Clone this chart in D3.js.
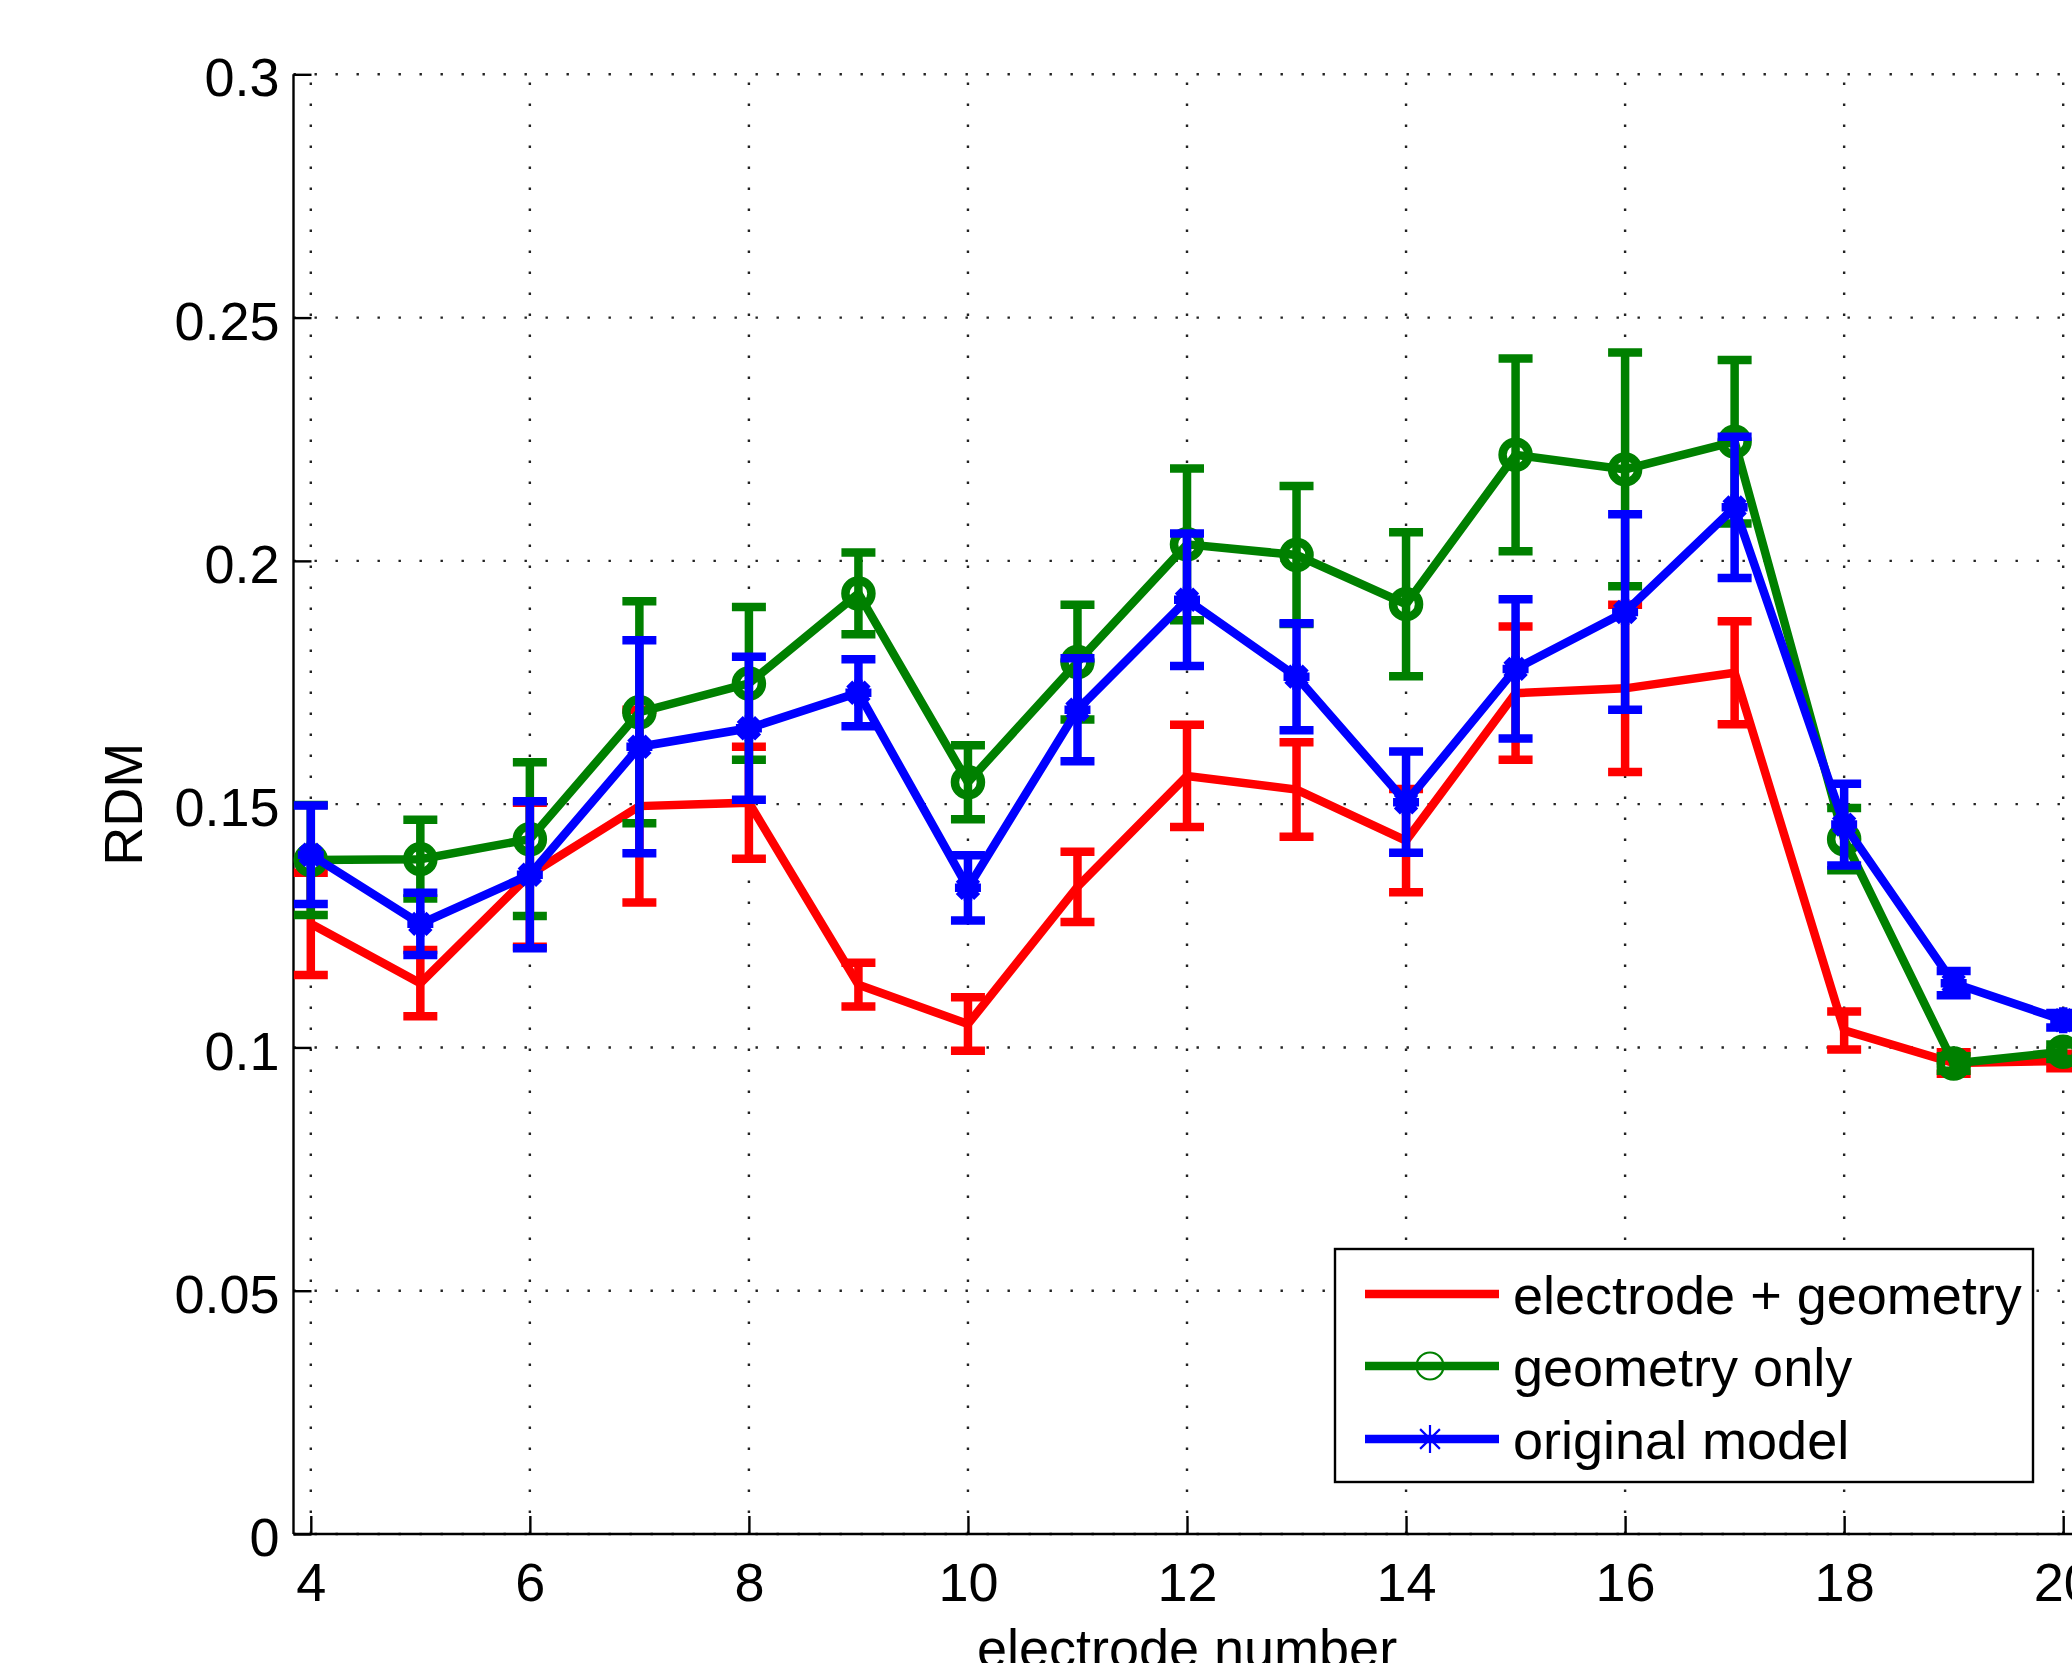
<!DOCTYPE html>
<html>
<head>
<meta charset="utf-8">
<script src="https://cdn.jsdelivr.net/npm/d3@7/dist/d3.min.js"></script>
<style>
html,body{margin:0;padding:0;background:#fff;overflow:hidden;}
text{font-family:"Liberation Sans",Arial,Helvetica,sans-serif;}
</style>
</head>
<body>
<svg id="chart" width="2072" height="1663"></svg>
<script>
// ---- data ----
const electrodes = [4,5,6,7,8,9,10,11,12,13,14,15,16,17,18,19,20];

const redMean  = [0.1254,0.1132,0.1355,0.1496,0.1503,0.1129,0.1048,0.1330,0.1558,0.1530,0.1425,0.1728,0.1738,0.1770,0.1035,0.0968,0.0972];
const redErr   = [0.0105,0.0068,0.0148,0.0198,0.0115,0.0045,0.0055,0.0072,0.0105,0.0097,0.0106,0.0137,0.0172,0.0106,0.0039,0.0022,0.0015];

const greenMean = [0.1385,0.1387,0.1428,0.1689,0.1748,0.1933,0.1545,0.1792,0.2034,0.2012,0.1911,0.2218,0.2188,0.2245,0.1428,0.0967,0.0991];
const greenErr  = [0.0113,0.0081,0.0158,0.0228,0.0157,0.0084,0.0076,0.0118,0.0156,0.0142,0.0148,0.0198,0.0240,0.0168,0.0064,0.0015,0.0015];

const blueMean = [0.1396,0.1254,0.1355,0.1618,0.1656,0.1729,0.1328,0.1694,0.1920,0.1762,0.1504,0.1778,0.1895,0.2110,0.1458,0.1132,0.1056];
const blueErr  = [0.0101,0.0064,0.0151,0.0219,0.0147,0.0069,0.0067,0.0106,0.0136,0.0110,0.0104,0.0143,0.0201,0.0145,0.0084,0.0025,0.0015];

const seriesNames = ["electrode + geometry","geometry only","original model"];
const seriesColors = ["#ff0000","#008000","#0000ff"];
const seriesMarkers = ["none","circle","asterisk"];

const xTicks = [4,6,8,10,12,14,16,18,20];
const yTicks = [0,0.05,0.1,0.15,0.2,0.25,0.3];
const yTickLabels = ["0","0.05","0.1","0.15","0.2","0.25","0.3"];
const xLabel = "electrode number";
const yLabel = "RDM";

// ---- layout ----
const svg = d3.select("#chart");
const pLeft = 293.5, pRight = 2080.5, pTop = 74.3, pBottom = 1534;
const x = d3.scaleLinear().domain([3.842, 20.158]).range([pLeft, pRight]);
const y = d3.scaleLinear().domain([0, 0.3]).range([pBottom, pTop]);

// grid
const grid = svg.append("g");
grid.selectAll("line.gx").data(xTicks).enter().append("line")
  .attr("x1", d => x(d)).attr("x2", d => x(d)).attr("y1", pBottom).attr("y2", pTop)
  .attr("stroke", "#222").attr("stroke-width", 2.4).attr("stroke-dasharray", "2.4 18.6");
grid.selectAll("line.gy").data(yTicks).enter().append("line")
  .attr("x1", pLeft).attr("x2", pRight).attr("y1", d => y(d)).attr("y2", d => y(d))
  .attr("stroke", "#222").attr("stroke-width", 2.4).attr("stroke-dasharray", "2.4 18.6");

// axes
const xAxis = d3.axisBottom(x).tickValues(xTicks).tickSize(-18).tickPadding(30).tickFormat(d3.format("d"));
const yAxis = d3.axisLeft(y).tickValues(yTicks).tickSize(-18).tickPadding(14).tickFormat((d,i) => yTickLabels[i]);

const gx = svg.append("g").attr("transform", `translate(0,${pBottom})`).call(xAxis);
const gy = svg.append("g").attr("transform", `translate(${pLeft},0)`).call(yAxis);
[gx, gy].forEach(g => {
  g.select(".domain").attr("stroke", "#000").attr("stroke-width", 2.4);
  g.selectAll(".tick line").attr("stroke", "#000").attr("stroke-width", 2.4);
  g.selectAll(".tick text").attr("fill", "#000").attr("font-size", 54)
   .attr("font-family", '"Liberation Sans",Arial,Helvetica,sans-serif');
});
gx.select(".domain").attr("d", `M${pLeft},0H${pRight}`);
gy.select(".domain").attr("d", `M0,${pBottom}V${pTop}`);
gx.selectAll(".tick text").attr("dy", null).attr("y", 67);
gy.selectAll(".tick text").attr("dy", "0.4em");

// labels
svg.append("text").attr("x", (pLeft + pRight) / 2).attr("y", 1667)
  .attr("text-anchor", "middle").attr("font-size", 54).attr("fill", "#000").text(xLabel);
svg.append("text").attr("transform", `translate(142,${(pTop + pBottom) / 2}) rotate(-90)`)
  .attr("text-anchor", "middle").attr("font-size", 54).attr("fill", "#000").text(yLabel);

// series
const allSeries = [
  {name: seriesNames[0], color: seriesColors[0], marker: seriesMarkers[0], mean: redMean, err: redErr},
  {name: seriesNames[1], color: seriesColors[1], marker: seriesMarkers[1], mean: greenMean, err: greenErr},
  {name: seriesNames[2], color: seriesColors[2], marker: seriesMarkers[2], mean: blueMean, err: blueErr}
];

const lw = 8.5, capHalf = 17;
const line = d3.line().x(d => x(d.x)).y(d => y(d.m));

function drawMarker(g, type, cx, cy, color, sw, size) {
  if (type === "circle") {
    g.append("circle").attr("cx", cx).attr("cy", cy).attr("r", size)
      .attr("fill", "none").attr("stroke", color).attr("stroke-width", sw);
  } else if (type === "asterisk") {
    const s = size, d = size * 0.7071;
    const p = `M${cx - s},${cy}H${cx + s}M${cx},${cy - s}V${cy + s}` +
              `M${cx - d},${cy - d}L${cx + d},${cy + d}M${cx - d},${cy + d}L${cx + d},${cy - d}`;
    g.append("path").attr("d", p).attr("stroke", color).attr("stroke-width", sw).attr("fill", "none");
  }
}

allSeries.forEach(s => {
  const g = svg.append("g");
  const pts = electrodes.map((e, i) => ({x: e, m: s.mean[i], e: s.err[i]}));
  pts.forEach(p => {
    const cx = x(p.x), yt = y(p.m + p.e), yb = y(p.m - p.e);
    g.append("path")
      .attr("d", `M${cx},${yt}V${yb}M${cx - capHalf},${yt}H${cx + capHalf}M${cx - capHalf},${yb}H${cx + capHalf}`)
      .attr("stroke", s.color).attr("stroke-width", lw).attr("fill", "none");
  });
  g.append("path").datum(pts).attr("d", line)
    .attr("stroke", s.color).attr("stroke-width", lw).attr("fill", "none").attr("stroke-linejoin", "miter");
  pts.forEach(p => drawMarker(g, s.marker, x(p.x), y(p.m), s.color, lw, s.marker === "circle" ? 13 : 13));
});

// legend
const lg = svg.append("g");
lg.append("rect").attr("x", 1335).attr("y", 1249).attr("width", 698).attr("height", 233)
  .attr("fill", "#fff").attr("stroke", "#000").attr("stroke-width", 2.4);
const legY = [1294, 1366, 1439];
allSeries.forEach((s, i) => {
  lg.append("line").attr("x1", 1365).attr("x2", 1499).attr("y1", legY[i]).attr("y2", legY[i])
    .attr("stroke", s.color).attr("stroke-width", lw);
  drawMarker(lg, s.marker, 1430, legY[i], s.color, 2.2, s.marker === "circle" ? 13.5 : 14);
  lg.append("text").attr("x", 1513).attr("y", legY[i] + 20).attr("font-size", 54).attr("fill", "#000").text(s.name);
});
</script>
</body>
</html>
